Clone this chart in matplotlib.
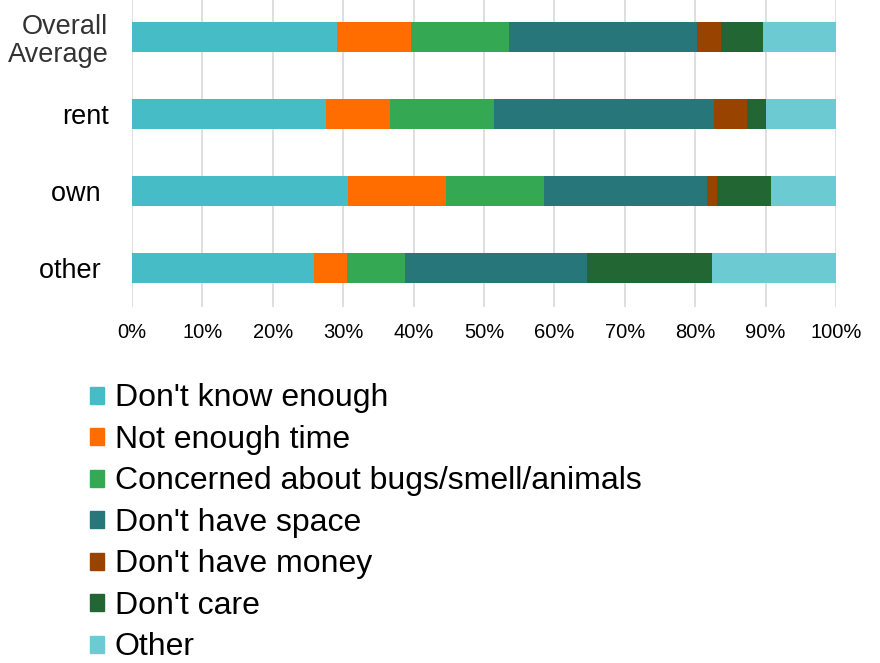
import numpy as np
import matplotlib.pyplot as plt
from matplotlib.patches import Patch

plt.rcParams['font.family'] = ['Liberation Sans', 'DejaVu Sans']

groups = ['Overall\nAverage', 'rent', 'own ', 'other ']
reasons = ["Don't know enough", 'Not enough time', 'Concerned about bugs/smell/animals',
           "Don't have space", "Don't have money", "Don't care", 'Other']
overall = [29.1, 10.5, 14.0, 26.7, 3.4, 5.9, 10.4]
rent = [27.5, 9.1, 14.8, 31.2, 4.7, 2.7, 10.0]
own = [30.7, 13.9, 13.9, 23.2, 1.4, 7.7, 9.2]
other = [25.9, 4.7, 8.2, 25.9, 0.0, 17.7, 17.6]
colors = ['#46bdc6', '#ff6d01', '#34a853', '#26767a', '#994300', '#226733', '#6ccad2']

data = np.array([overall, rent, own, other])
data = data / data.sum(axis=1, keepdims=True)  # normalise to 100%

fig = plt.figure(figsize=(8.8, 6.63), dpi=100)
ax = fig.add_axes([0.15, 0.5377, 0.8, 0.4645])

y = np.arange(len(groups))
left = np.zeros(len(groups))
for i, name in enumerate(reasons):
    ax.barh(y, data[:, i], left=left, height=0.4, color=colors[i], label=name)
    left += data[:, i]

ax.set_ylim(len(groups) - 0.5, -0.5)
ax.set_xlim(0, 1)
ax.set_xticks(np.linspace(0, 1, 11))
ax.set_xticklabels([f'{int(v)}%' for v in np.arange(0, 101, 10)], fontsize=14.5)
ax.set_yticks(y)
ax.set_yticklabels(groups, fontsize=19.5, linespacing=1.1)
ax.get_yticklabels()[0].set_color('#333333')
ax.tick_params(axis='x', length=0, pad=12)
ax.tick_params(axis='y', length=0, pad=17)
ax.grid(axis='x', color='#d9d9d9', lw=1.2)
ax.set_axisbelow(True)
for s in ax.spines.values():
    s.set_visible(False)

handles = [Patch(color=c, label=n) for c, n in zip(colors, reasons)]
fig.legend(handles=handles, loc='upper left', bbox_to_anchor=(0.1023, 0.4216),
           frameon=False, fontsize=23, handlelength=0.44, handleheight=0.44,
           handletextpad=0.34, labelspacing=0.36, borderaxespad=0, borderpad=0)

fig.savefig('out.png', dpi=100)
